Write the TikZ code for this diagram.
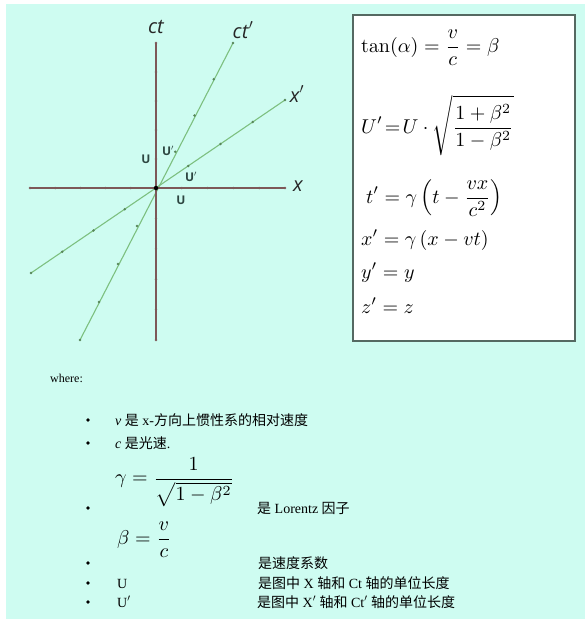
\documentclass[tikz,border=0pt]{standalone}
\usepackage{amsmath}
\usepackage[no-math]{fontspec}
\setmainfont{Liberation Serif}
\newfontfamily\cjk{Noto Sans CJK SC}
\newfontfamily\axfont{Open Sans}
\usetikzlibrary{calc}
\definecolor{bgcyan}{RGB}{206,252,241}
\definecolor{axisbrown}{RGB}{125,88,88}
\definecolor{lgreen}{RGB}{125,192,128}
\definecolor{boxborder}{RGB}{85,105,98}
\definecolor{ulabel}{RGB}{45,70,65}
\newcommand{\scaledmath}[1]{\scalebox{2}{#1}}
\tikzset{
  axisline/.style={draw=axisbrown, line width=1.1pt},
  greenline/.style={draw=lgreen, line width=1.1pt},
  tickdot/.style={circle, inner sep=0pt, minimum size=2.6pt},
  axlabel/.style={inner sep=0pt, font=\axfont\itshape\fontsize{20}{24}\selectfont, text=black!85},
  ulab/.style={inner sep=0pt, font=\axfont\bfseries\fontsize{12}{14}\selectfont, text=ulabel},
  mathnode/.style={inner sep=0pt, anchor=base west},
  listtext/.style={inner sep=0pt, anchor=base west, font=\fontsize{14}{16}\selectfont},
  bulletdot/.style={circle, fill=black, inner sep=0pt, minimum size=3.6pt},
}
\begin{document}
\begin{tikzpicture}[x=1pt,y=-1pt]
\useasboundingbox (0,0) rectangle (585,619);
\fill[white] (0,0) rectangle (585,619);
\fill[bgcyan] (6,4) rectangle (585,619);

% diagram
\coordinate (O) at (156,188);
\coordinate (xl) at (30,188);
\coordinate (xr) at (285,188);
\coordinate (ctt) at (156,43);
\coordinate (ctb) at (156,340);
\coordinate (cpt) at (233,43);
\coordinate (cpb) at (80,340);
\coordinate (xpt) at (285,100);
\coordinate (xpb) at (31,273);

\draw[greenline] (cpb) -- (cpt);
\draw[greenline] (xpb) -- (xpt);
\draw[axisline] (xl) -- (xr);
\draw[axisline] (ctb) -- (ctt);

\foreach \e in {xl,xr,ctt,ctb}{
  \foreach \i in {1,...,5}{
    \node[tickdot, fill=axisbrown] at ($(O)!\i/5!(\e)$) {};
  }
}
\foreach \e in {cpt,cpb,xpt,xpb}{
  \foreach \i in {1,...,4}{
    \node[tickdot, fill=lgreen!70!black] at ($(O)!\i/4!(\e)$) {};
  }
}
\node[circle, fill=black, inner sep=0pt, minimum size=4.5pt] (origin) at (O) {};

\node[axlabel] (lct) at (156,27) {ct};
\node[axlabel] (lctp) at (243,30) {ct\kern0.5pt\raisebox{1pt}{$'$}};
\node[axlabel] (lxp) at (297,94) {x\raisebox{1pt}{$'$}};
\node[axlabel] (lx) at (298,186) {x};

\node[ulab] (u1) at (146,159) {U};
\node[ulab] (u2) at (168,151) {U$'$};
\node[ulab] (u3) at (191,177) {U$'$};
\node[ulab] (u4) at (181,200) {U};

% formula box
\draw[draw=boxborder, fill=white, line width=1.5pt] (353,15) rectangle (575,341);
\node[mathnode] (f1) at (361,52) {\scaledmath{$\displaystyle \tan(\alpha)=\frac{v}{c}=\beta$}};
\node[mathnode] (f2) at (361,133) {\scaledmath{$\displaystyle U'\!=\!U\cdot\sqrt{\frac{1+\beta^2}{1-\beta^2}}$}};
\node[mathnode] (f3) at (366,203) {\scaledmath{$\displaystyle t'=\gamma\left(t-\frac{vx}{c^2}\right)$}};
\node[mathnode] (f4) at (361,245) {\scaledmath{$x'=\gamma\,(x-vt)$}};
\node[mathnode] (f5) at (361,278) {\scaledmath{$y'=y$}};
\node[mathnode] (f6) at (361,313) {\scaledmath{$z'=z$}};

% list
\node[listtext, font=\fontsize{12}{14}\selectfont] (where) at (50,382) {where:};

\node[bulletdot] (b1) at (88,420) {};
\node[bulletdot] (b2) at (88,443) {};
\node[bulletdot] (b3) at (88,508) {};
\node[bulletdot] (b4) at (88,563) {};
\node[bulletdot] (b5) at (88,583) {};
\node[bulletdot] (b6) at (88,602) {};

\node[listtext] (t1) at (115,425) {\textit{v} {\cjk 是} x-{\cjk 方向上惯性系的相对速度}};
\node[listtext] (t2) at (115,448) {\textit{c} {\cjk 是光速}.};
\node[mathnode, anchor=west] (g) at (115,482) {\scaledmath{$\displaystyle \gamma=\frac{1}{\sqrt{1-\beta^2}}$}};
\node[listtext] (t3) at (257,513) {{\cjk 是} Lorentz {\cjk 因子}};
\node[mathnode, anchor=west] (bt) at (117,540) {\scaledmath{$\displaystyle \beta=\frac{v}{c}$}};
\node[listtext] (t4) at (258,568) {\cjk 是速度系数};
\node[listtext] (t5a) at (117,588) {U};
\node[listtext] (t5) at (258,588) {{\cjk 是图中} X {\cjk 轴和} Ct {\cjk 轴的单位长度}};
\node[listtext] (t6a) at (117,607) {U$'$};
\node[listtext] (t6) at (257,607) {{\cjk 是图中} X$'$ {\cjk 轴和} Ct$'$ {\cjk 轴的单位长度}};
\end{tikzpicture}
\end{document}
